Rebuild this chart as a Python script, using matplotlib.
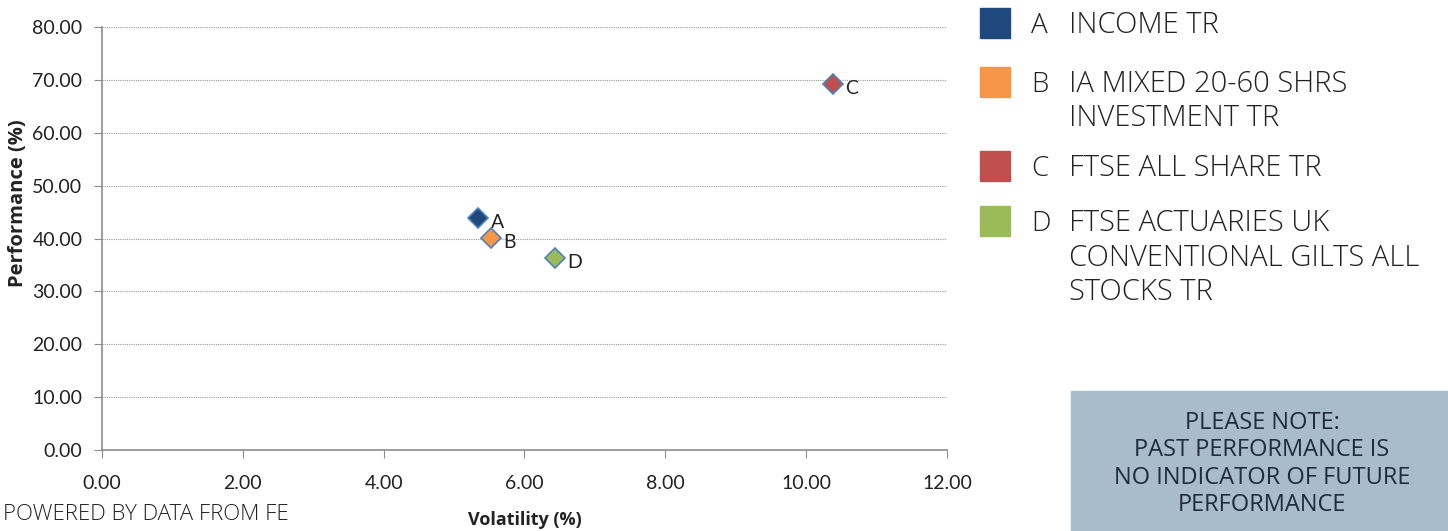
import matplotlib.pyplot as plt
from matplotlib.patches import Rectangle

# dados
letras = ['A', 'B', 'C', 'D']
nomes = ['INCOME TR',
         'IA MIXED 20-60 SHRS\nINVESTMENT TR',
         'FTSE ALL SHARE TR',
         'FTSE ACTUARIES UK\nCONVENTIONAL GILTS ALL\nSTOCKS TR']
volatilidade = [5.34, 5.52, 10.38, 6.43]
performance = [43.8, 40.1, 69.2, 36.3]
cores = ['#1f497d', '#f79646', '#c0504d', '#9bbb59']
xticks = [0, 2, 4, 6, 8, 10, 12]
yticks = [0, 10, 20, 30, 40, 50, 60, 70, 80]

fonte_eixo = 'Lato'
fonte_leg = 'Open Sans'

fig = plt.figure(figsize=(14.48, 5.31), dpi=100)
ax = fig.add_axes([0.0704, 0.1525, 0.5836, 0.7965])

for xi, yi, c, l in zip(volatilidade, performance, cores, letras):
    ax.plot(xi, yi, marker='D', ms=10, mfc=c, mec='#4f81bd', mew=1.2,
            linestyle='none', zorder=3)
    ax.annotate(l, (xi, yi), xytext=(9, -3), textcoords='offset points',
                fontsize=14, family=fonte_eixo, color='#222222', va='center')

ax.set_xlim(0, 12)
ax.set_ylim(0, 80)
ax.set_xticks(xticks)
ax.set_yticks(yticks)
ax.set_xticklabels([f'{v:.2f}' for v in xticks], family=fonte_eixo, fontsize=14)
ax.set_yticklabels([f'{v:.2f}' for v in yticks], family=fonte_eixo, fontsize=14)
ax.tick_params(axis='both', colors='#8c8c8c', labelcolor='#222222',
               length=6, direction='out')
ax.tick_params(axis='x', pad=12)
ax.tick_params(axis='y', pad=8)
ax.yaxis.grid(True, color='#9a9a9a', linestyle=(0, (1, 1)), linewidth=0.8)
ax.set_axisbelow(True)
for lado in ['top', 'right']:
    ax.spines[lado].set_visible(False)
for lado in ['left', 'bottom']:
    ax.spines[lado].set_color('#8c8c8c')
    ax.spines[lado].set_linewidth(1.2)

ax.set_xlabel('Volatility (%)', family=fonte_leg, fontsize=13,
              fontweight='bold', labelpad=14, color='#222222')
ax.set_ylabel('Performance (%)', family=fonte_leg, fontsize=14.5,
              fontweight='bold', color='#222222', va='center')
ax.yaxis.set_label_coords(-0.0994, 0.584)

# legenda feita a mao (y = linha de base em pixels)
W, H = 1448, 531
linhas_y = [33, 92, 176, 231]
for l, n, c, yy in zip(letras, nomes, cores, linhas_y):
    fig.add_artist(Rectangle((980 / W, 1 - (yy + 5) / H), 30 / W, 30 / H,
                             transform=fig.transFigure, color=c))
    fig.text(1031 / W, 1 - yy / H, l, fontsize=20, family=fonte_leg,
             fontweight='light', va='baseline', color='#222222')
    linhas = n.split('\n')
    for k, txt in enumerate(linhas):
        fig.text(1069 / W, 1 - (yy + 34.5 * k) / H, txt, fontsize=21,
                 family=fonte_leg, fontweight='light', va='baseline',
                 color='#222222')

# caixa de aviso
fig.add_artist(Rectangle((1071 / W, 0), 377 / W, 140 / H,
                         transform=fig.transFigure, color='#a9bccb'))
fig.text(1262 / W, 1 - 464 / H,
         'PLEASE NOTE:\nPAST PERFORMANCE IS\nNO INDICATOR OF FUTURE\nPERFORMANCE',
         ha='center', va='center', fontsize=17, family=fonte_leg,
         color='#1f2d3a', linespacing=1.2)

fig.text(3 / W, 1 - 514 / H, 'POWERED BY DATA FROM FE', fontsize=16,
         family=fonte_leg, fontweight='light', va='center', color='#222222')

fig.savefig('out.png', dpi=100)
